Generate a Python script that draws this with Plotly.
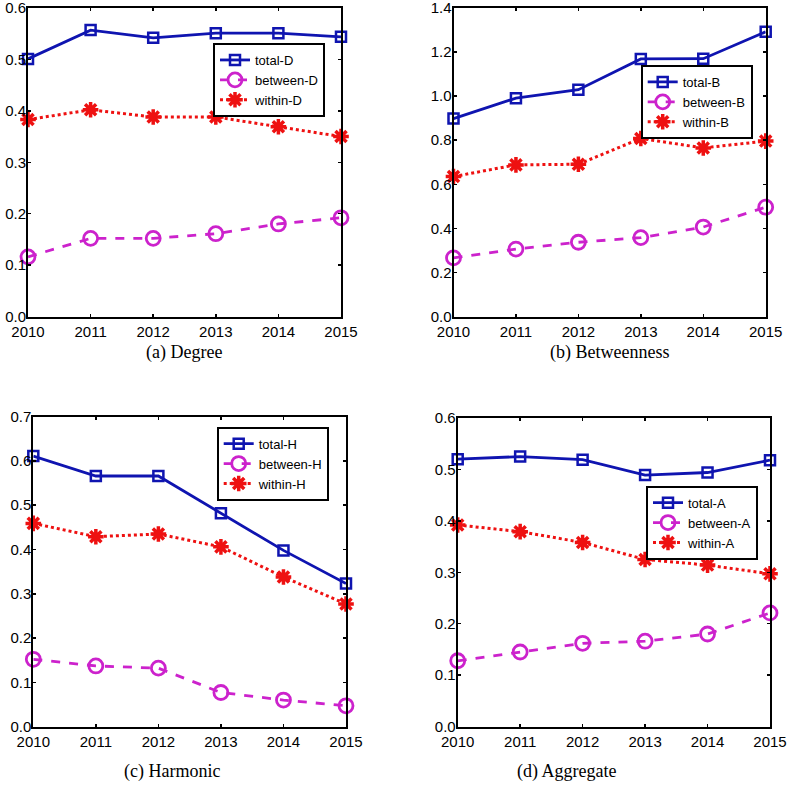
import plotly.graph_objects as go

years = [2010, 2011, 2012, 2013, 2014, 2015]

total_D = [0.501, 0.557, 0.542, 0.551, 0.551, 0.544]
between_D = [0.116, 0.152, 0.152, 0.161, 0.180, 0.192]
within_D = [0.383, 0.402, 0.388, 0.388, 0.369, 0.350]

total_B = [0.898, 0.991, 1.029, 1.169, 1.170, 1.292]
between_B = [0.266, 0.306, 0.337, 0.358, 0.406, 0.496]
within_B = [0.635, 0.688, 0.691, 0.808, 0.765, 0.796]

total_H = [0.611, 0.566, 0.566, 0.482, 0.398, 0.323]
between_H = [0.152, 0.137, 0.132, 0.077, 0.060, 0.047]
within_H = [0.459, 0.429, 0.435, 0.406, 0.338, 0.277]

total_A = [0.520, 0.525, 0.519, 0.489, 0.494, 0.518]
between_A = [0.128, 0.145, 0.162, 0.166, 0.180, 0.221]
within_A = [0.392, 0.379, 0.358, 0.325, 0.314, 0.297]

panels = [
    dict(key="D", caption="(a) Degree", total=total_D, between=between_D, within=within_D,
         ymax=0.6, dtick=0.1),
    dict(key="B", caption="(b) Betweenness", total=total_B, between=between_B, within=within_B,
         ymax=1.4, dtick=0.2),
    dict(key="H", caption="(c) Harmonic", total=total_H, between=between_H, within=within_H,
         ymax=0.7, dtick=0.1),
    dict(key="A", caption="(d) Aggregate", total=total_A, between=between_A, within=within_A,
         ymax=0.6, dtick=0.1),
]

W, H = 787, 798
# pixel boxes: left, right, top, bottom
boxes = [
    (28, 341, 8, 316.5),
    (453.5, 765.7, 8, 316.5),
    (33.3, 346, 416.7, 726.6),
    (457.7, 770, 418, 726.6),
]
legend_pos = [(213, 43), (640.7, 65), (216.7, 426.7), (646, 485.7)]
caption_pos = [(184, 353), (609, 353), (172, 771), (566, 771)]

BLUE = "#0f14b0"
MAG = "#cc22cc"
RED = "#ee1111"
TICKFONT = dict(family="Liberation Sans, Arial", size=15, color="black")

fig = go.Figure()
layout = dict(
    width=W, height=H, margin=dict(l=0, r=0, t=0, b=0, autoexpand=False),
    paper_bgcolor="white", plot_bgcolor="white",
    font=dict(family="Liberation Sans, Arial", size=15, color="black"),
    annotations=[],
)

for i, p in enumerate(panels):
    n = i + 1
    xa = "x" if n == 1 else f"x{n}"
    ya = "y" if n == 1 else f"y{n}"
    lg = "legend" if n == 1 else f"legend{n}"
    common = dict(x=years, xaxis=xa, yaxis=ya, legend=lg, cliponaxis=False, mode="lines+markers")
    fig.add_trace(go.Scatter(y=p["total"], name=f"total-{p['key']}",
                             line=dict(color=BLUE, width=2.8),
                             marker=dict(symbol="square-open", size=10, color=BLUE,
                                         line=dict(color=BLUE, width=2.5)), **common))
    fig.add_trace(go.Scatter(y=p["between"], name=f"between-{p['key']}",
                             line=dict(color=MAG, width=2.8, dash="dash"),
                             marker=dict(symbol="circle-open", size=14, color=MAG,
                                         line=dict(color=MAG, width=2.8)), **common))
    fig.add_trace(go.Scatter(y=p["within"], name=f"within-{p['key']}",
                             line=dict(color=RED, width=3, dash="dot"),
                             marker=dict(symbol="asterisk-open", size=13, color=RED,
                                         line=dict(color=RED, width=3.5)), **common))
    l, r, t, b = boxes[i]
    xkey = "xaxis" if n == 1 else f"xaxis{n}"
    ykey = "yaxis" if n == 1 else f"yaxis{n}"
    layout[xkey] = dict(
        domain=[l / W, r / W], anchor=ya, range=[2010, 2015],
        tickmode="array", tickvals=years, ticktext=[str(v) for v in years],
        ticks="inside", ticklen=3, tickwidth=1.5, tickcolor="black",
        showline=True, linecolor="black", linewidth=2, mirror="ticks",
        showgrid=False, zeroline=False, fixedrange=True, automargin=False,
        tickfont=TICKFONT, ticklabeloverflow="allow",
    )
    yvals = []
    v = 0.0
    while v <= p["ymax"] + 1e-9:
        yvals.append(round(v, 1))
        v += p["dtick"]
    layout[ykey] = dict(
        domain=[1 - b / H, 1 - t / H], anchor=xa, range=[0, p["ymax"]],
        tickmode="array", tickvals=yvals, ticktext=[f"{t_:.1f}" for t_ in yvals],
        ticks="inside", ticklen=3, tickwidth=1.5, tickcolor="black",
        showline=True, linecolor="black", linewidth=2, mirror="ticks",
        showgrid=False, zeroline=False, fixedrange=True, automargin=False,
        tickfont=TICKFONT, ticklabelstandoff=-3, ticklabeloverflow="allow",
    )
    lx, ly = legend_pos[i]
    layout[lg] = dict(
        x=lx / W, y=1 - ly / H, xanchor="left", yanchor="top",
        xref="paper", yref="paper",
        bgcolor="white", bordercolor="black", borderwidth=2,
        font=dict(family="Liberation Sans, Arial", size=13, color="black"),
        tracegroupgap=0, itemwidth=30,
    )
    cx, cy = caption_pos[i]
    layout["annotations"].append(dict(
        x=cx / W, y=1 - cy / H, xref="paper", yref="paper",
        text=p["caption"], showarrow=False, xanchor="center", yanchor="middle",
        font=dict(family="Liberation Serif, Times New Roman", size=18, color="black"),
    ))

fig.update_layout(**layout)
fig.write_html("out.html", config={"displayModeBar": False, "staticPlot": True},
               post_script="document.body.style.margin='0px';document.body.style.padding='0px';")
